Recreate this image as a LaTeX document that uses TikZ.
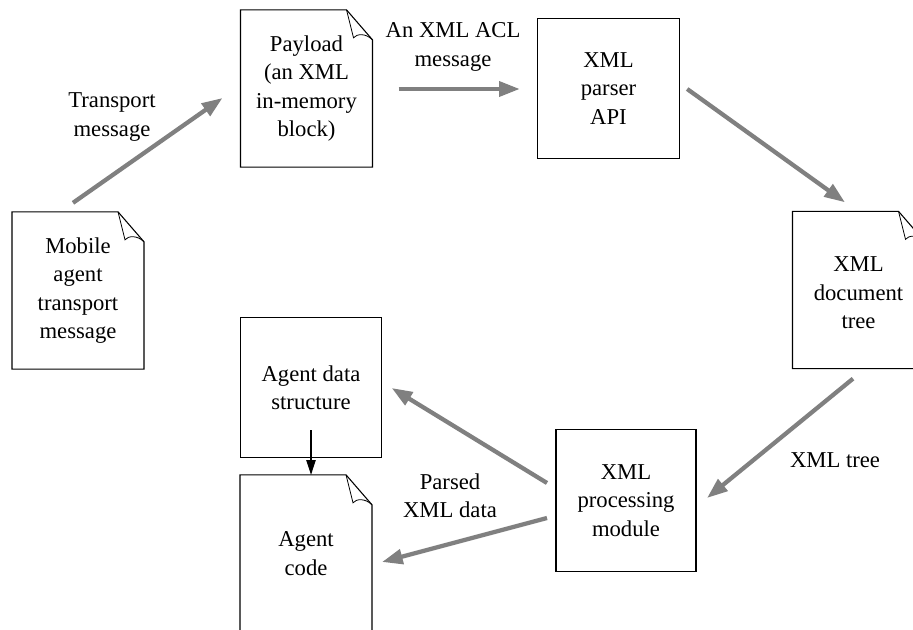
\documentclass[tikz,border=0pt]{standalone}
\usepackage{fontspec}
\setmainfont{Liberation Serif}
\usetikzlibrary{calc,arrows.meta}
\definecolor{arrowgray}{RGB}{128,128,128}
\begin{document}
\begin{tikzpicture}[x=0.75pt,y=-0.75pt,
    font=\fontsize{17}{21.2}\selectfont,
    doc/.style={rectangle,minimum width=99pt,minimum height=118pt,
        inner sep=0pt,outer sep=0pt,align=center},
    box/.style={rectangle,draw,line width=0.8pt,minimum width=106pt,
        minimum height=104.5pt,inner sep=0pt,outer sep=0pt,align=center},
    flow/.style={draw=arrowgray,line width=3.2pt,
        -{Triangle[length=15.5pt,width=11pt]}},
    txt/.style={align=center}]
    % Page
    \clip (0,0) rectangle (913,630);
    \fill[white] (0,0) rectangle (913,630);

    % Documents and blocks
    \node[doc] (mobile) at (78,290.5) {Mobile\\agent\\transport\\message};
    \node[doc] (payload) at (306.5,88.5) {Payload\\(an XML\\in-memory\\block)};
    \node[box] (parser) at (608.5,88.5) {XML\\parser\\API};
    \node[doc] (tree) at (858.5,290) {\\[-6pt]XML\\document\\tree};
    \node[box] (data) at (311,387.5) {Agent data\\structure};
    \node[doc] (code) at (306,553.5) {Agent\\code};
    \node[box,minimum width=105pt,minimum height=106pt] (proc) at (626,500.5)
        {XML\\processing\\module};

    % Folded corners
    \foreach \d in {mobile,payload,tree,code}{
        \draw[line width=0.8pt] (\d.south west) -- (\d.north west)
            -- ($(\d.north east)+(-26,0)$) -- ($(\d.north east)+(0,30)$)
            -- (\d.south east) -- cycle;
        \draw[line width=0.6pt] ($(\d.north east)+(-26,0)$) -- ($(\d.north east)+(-19,28)$)
            .. controls ($(\d.north east)+(-16,24)$) and ($(\d.north east)+(-7,23)$)
            .. ($(\d.north east)+(0,30)$);
    }

    % Flow
    \draw[flow] ($(mobile.north)+(-5,-9)$) -- ($(payload.west)+(-18,9.5)$);
    \draw[flow] ($(payload.east)+(26,0.5)$) -- ($(parser.west)+(-18,0.5)$);
    \draw[flow] ($(parser.east)+(8,0.5)$) -- ($(tree.north)+(-13.5,-9)$);
    \draw[flow] ($(tree.south)+(-5.5,10)$) -- ($(proc.east)+(11,-2.5)$);
    \draw[flow] ($(proc.west)+(-9,-17.5)$) -- ($(data.east)+(10,0.5)$);
    \draw[flow] ($(proc.west)+(-9,17.5)$) -- ($(code.east)+(10,8.5)$);
    \draw[line width=0.8pt,-{Triangle[length=11pt,width=7pt]}]
        ($(data.south)+(0,-27)$) -- (data.south |- code.north);

    % Labels
    \node[txt] (ltransport) at (112,117) {Transport\\message};
    \node[txt] (lacl) at (453,47) {An XML ACL\\message};
    \node[txt] (ltree) at (835,460) {XML tree};
    \node[txt] (lparsed) at (450,496) {Parsed\\XML data};
\end{tikzpicture}
\end{document}
